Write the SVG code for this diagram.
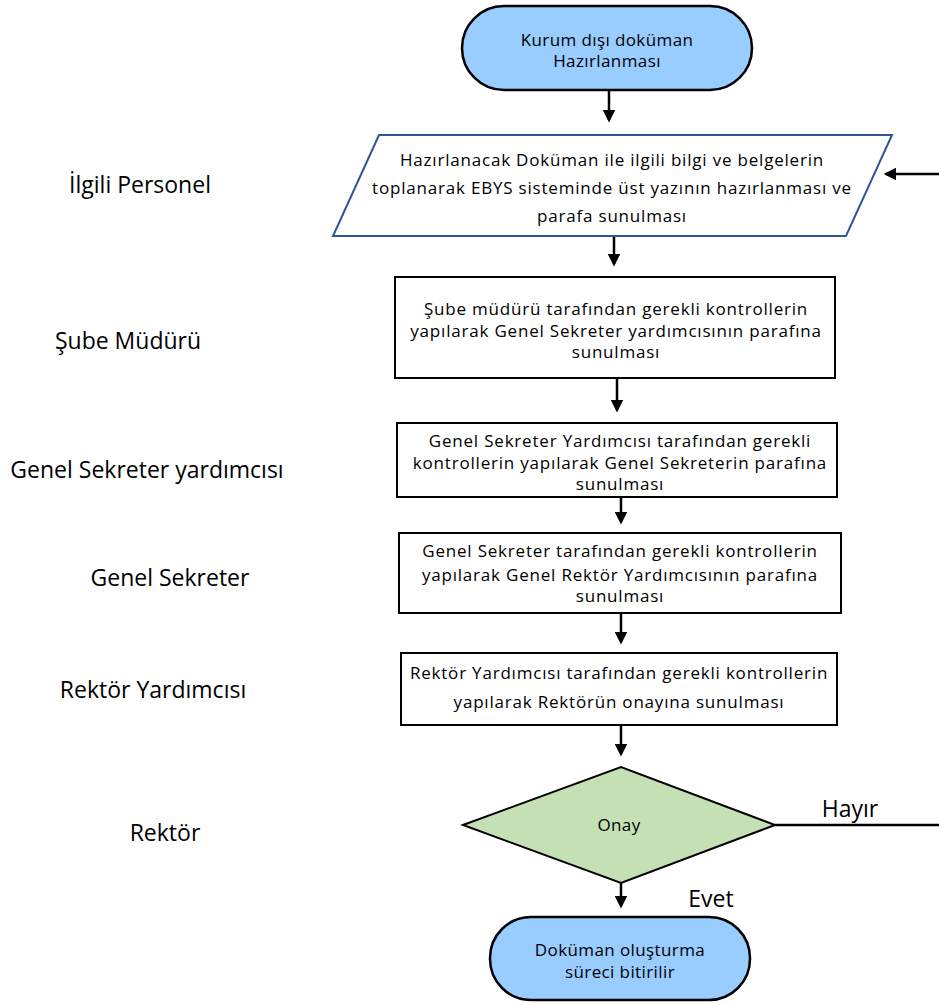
<svg xmlns="http://www.w3.org/2000/svg" width="939" height="1005" viewBox="0 0 939 1005">
<style>
text{font-family:"Open Sans","Noto Sans","Liberation Sans",sans-serif;fill:#000;text-anchor:middle}
.lbl{font-size:23px}
.t{font-size:17px;letter-spacing:0.8px}
.ts{font-size:17px;letter-spacing:0.4px}
.box{fill:#fff;stroke:#000;stroke-width:2}
.term{fill:#99CCFF;stroke:#000;stroke-width:2.5}
.conn{stroke:#000;stroke-width:2.5;fill:none}
</style>
<defs>
<marker id="ah" markerWidth="5" markerHeight="5" refX="4" refY="2.5" orient="auto" markerUnits="strokeWidth">
<path d="M0,0 L5,2.5 L0,5 Z" fill="#000"/>
</marker>
</defs>
<rect width="939" height="1005" fill="#fff"/>

<g id="lanes">
<text class="lbl" x="140" y="193">İlgili Personel</text>
<text class="lbl" x="128" y="349">Şube Müdürü</text>
<text class="lbl" x="147" y="478">Genel Sekreter yardımcısı</text>
<text class="lbl" x="170" y="586">Genel Sekreter</text>
<text class="lbl" x="153" y="698">Rektör Yardımcısı</text>
<text class="lbl" x="165" y="841">Rektör</text>
</g>

<g id="connectors">
<line class="conn" x1="609" y1="91" x2="609" y2="120" marker-end="url(#ah)"/>
<line class="conn" x1="939" y1="174" x2="886" y2="174" marker-end="url(#ah)"/>
<line class="conn" x1="614" y1="237" x2="614" y2="264" marker-end="url(#ah)"/>
<line class="conn" x1="617" y1="379" x2="617" y2="410" marker-end="url(#ah)"/>
<line class="conn" x1="621" y1="498" x2="621" y2="522" marker-end="url(#ah)"/>
<line class="conn" x1="621" y1="614" x2="621" y2="642" marker-end="url(#ah)"/>
<line class="conn" x1="621" y1="726" x2="621" y2="754" marker-end="url(#ah)"/>
<line class="conn" x1="775" y1="825" x2="939" y2="825"/>
<line class="conn" x1="621" y1="883" x2="621" y2="906" marker-end="url(#ah)"/>
<text class="lbl" x="850" y="817">Hayır</text>
<text class="lbl" x="711" y="907">Evet</text>
</g>

<g id="start">
<rect class="term" x="462" y="6" width="290" height="84" rx="42" ry="42"/>
<text class="ts" x="607" y="46">Kurum dışı doküman</text>
<text class="ts" x="607" y="67">Hazırlanması</text>
</g>

<g id="prepare">
<polygon points="379,135 892,135 846,236 333,236" fill="#fff" stroke="#2F5597" stroke-width="2"/>
<text class="t" x="612" y="166">Hazırlanacak Doküman ile ilgili bilgi ve belgelerin</text>
<text class="t" x="612" y="194">toplanarak EBYS sisteminde üst yazının hazırlanması ve</text>
<text class="t" x="612" y="222">parafa sunulması</text>
</g>

<g id="sube">
<rect class="box" x="395" y="277" width="440" height="101"/>
<text class="t" x="616" y="315">Şube müdürü tarafından gerekli kontrollerin</text>
<text class="t" x="616" y="337">yapılarak Genel Sekreter yardımcısının parafına</text>
<text class="t" x="616" y="358">sunulması</text>
</g>

<g id="gsy">
<rect class="box" x="397" y="423" width="440" height="74"/>
<text class="t" x="620" y="447">Genel Sekreter Yardımcısı tarafından gerekli</text>
<text class="t" x="620" y="469">kontrollerin yapılarak Genel Sekreterin parafına</text>
<text class="t" x="620" y="490">sunulması</text>
</g>

<g id="gs">
<rect class="box" x="399" y="533" width="442" height="80"/>
<text class="t" x="620" y="557">Genel Sekreter tarafından gerekli kontrollerin</text>
<text class="t" x="620" y="581">yapılarak Genel Rektör Yardımcısının parafına</text>
<text class="t" x="620" y="602">sunulması</text>
</g>

<g id="ry">
<rect class="box" x="401" y="653" width="436" height="72"/>
<text class="t" x="619" y="679">Rektör Yardımcısı tarafından gerekli kontrollerin</text>
<text class="t" x="619" y="708">yapılarak Rektörün onayına sunulması</text>
</g>

<g id="onay">
<polygon points="463,825 621,767 775,825 621,883" fill="#C5E0B4" stroke="#000" stroke-width="2"/>
<text class="ts" x="619" y="831">Onay</text>
</g>

<g id="end">
<rect class="term" x="490" y="917" width="260" height="83" rx="41" ry="41"/>
<text class="ts" x="620" y="956">Doküman oluşturma</text>
<text class="ts" x="620" y="978">süreci bitirilir</text>
</g>
</svg>
